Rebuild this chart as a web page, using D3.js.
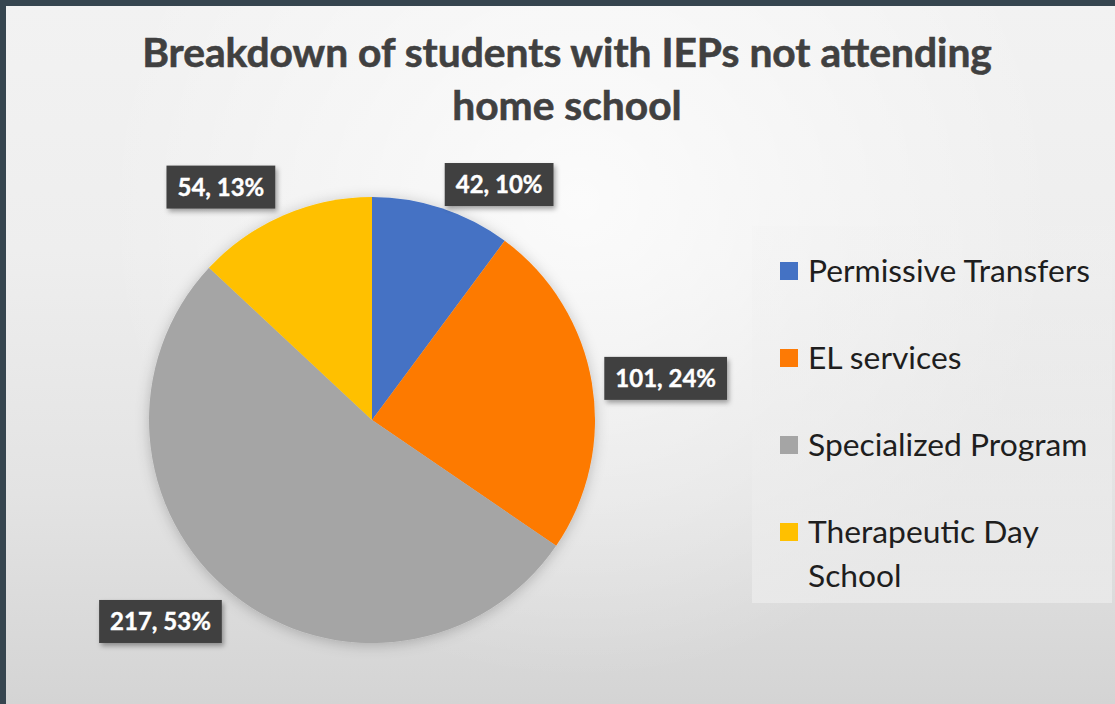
<!DOCTYPE html>
<html>
<head>
<meta charset="utf-8">
<script src="https://cdn.jsdelivr.net/npm/d3@7"></script>
<style>
  html, body { margin: 0; padding: 0; background: #36454f; }
  svg { display: block; }
</style>
</head>
<body>
<svg id="chart" width="1115" height="704"></svg>
<script>
// Students with IEPs not attending their home school, by reason
const categories = ["Permissive Transfers", "EL services", "Specialized Program", "Therapeutic Day School"];
const counts = [42, 101, 217, 54];
const percentLabels = ["10%", "24%", "53%", "13%"];
const colors = ["#4472c4", "#fd7a05", "#a5a5a5", "#ffc000"];

// Data label placement: radius factor and angular nudge (degrees) from slice middle
const labelRadius = [1.20, 1.33, 1.31, 1.245];
const labelNudge = [10.1, 1.5, 7.7, -9.5];

const W = 1115, H = 704;
const svg = d3.select("#chart");
const defs = svg.append("defs");

// Background gradients
const lin = defs.append("linearGradient").attr("id", "bgLin")
  .attr("x1", 0).attr("y1", 0).attr("x2", 0).attr("y2", 1);
[[0, "#f2f2f2"], [0.35, "#eeeeee"], [0.7, "#e3e3e3"], [1, "#d4d4d4"]]
  .forEach(([o, c]) => lin.append("stop").attr("offset", o).attr("stop-color", c));

const rad = defs.append("radialGradient").attr("id", "bgRad")
  .attr("gradientUnits", "userSpaceOnUse")
  .attr("cx", 580).attr("cy", 200).attr("r", 480);
rad.append("stop").attr("offset", 0).attr("stop-color", "#ffffff").attr("stop-opacity", 0.75);
rad.append("stop").attr("offset", 1).attr("stop-color", "#ffffff").attr("stop-opacity", 0);

const legGrad = defs.append("linearGradient").attr("id", "legGrad")
  .attr("x1", 0).attr("y1", 0).attr("x2", 0).attr("y2", 1);
legGrad.append("stop").attr("offset", 0).attr("stop-color", "#f0f0f0").attr("stop-opacity", 0.2);
legGrad.append("stop").attr("offset", 1).attr("stop-color", "#ececec").attr("stop-opacity", 0.75);

// Soft shadows
const pieShadow = defs.append("filter").attr("id", "pieShadow")
  .attr("x", "-20%").attr("y", "-20%").attr("width", "140%").attr("height", "140%");
pieShadow.append("feDropShadow").attr("dx", 0).attr("dy", 2)
  .attr("stdDeviation", 7).attr("flood-color", "#000").attr("flood-opacity", 0.22);

const boxShadow = defs.append("filter").attr("id", "boxShadow")
  .attr("x", "-20%").attr("y", "-30%").attr("width", "140%").attr("height", "160%");
boxShadow.append("feDropShadow").attr("dx", 2).attr("dy", 3)
  .attr("stdDeviation", 2.5).attr("flood-color", "#000").attr("flood-opacity", 0.35);

// Frame and panel
svg.append("rect").attr("width", W).attr("height", H).attr("fill", "#36454f");
svg.append("rect").attr("x", 6).attr("y", 6).attr("width", W - 6).attr("height", H - 6).attr("fill", "url(#bgLin)");
svg.append("rect").attr("x", 6).attr("y", 6).attr("width", W - 6).attr("height", H - 6).attr("fill", "url(#bgRad)");

// Fit a text element to a target width by adjusting font size
function fitWidth(sel, target) {
  const node = sel.node();
  const fs = parseFloat(sel.attr("font-size"));
  const len = node.getComputedTextLength();
  sel.attr("font-size", (fs * target / len).toFixed(2));
}

// Title
const titleFont = "Lato, 'Noto Sans', sans-serif";
const t1 = svg.append("text").attr("x", 567).attr("y", 67)
  .attr("text-anchor", "middle").attr("font-family", titleFont)
  .attr("font-weight", 700).attr("font-size", 34).attr("fill", "#404040")
  .attr("stroke", "#404040").attr("stroke-width", 0.6)
  .text("Breakdown of students with IEPs not attending");
fitWidth(t1, 850);
svg.append("text").attr("x", 567).attr("y", 120)
  .attr("text-anchor", "middle").attr("font-family", titleFont)
  .attr("font-weight", 700).attr("font-size", t1.attr("font-size")).attr("fill", "#404040")
  .attr("stroke", "#404040").attr("stroke-width", 0.6)
  .text("home school");

// Pie
const cx = 372, cy = 420, R = 223;
const pie = d3.pie().sort(null).value(d => d)(counts);
const arc = d3.arc().innerRadius(0).outerRadius(R);
const g = svg.append("g").attr("transform", `translate(${cx},${cy})`);
const slices = g.append("g").attr("filter", "url(#pieShadow)");
slices.selectAll("path").data(pie).join("path")
  .attr("d", arc)
  .attr("fill", (d, i) => colors[i]);

// Data labels
const lblG = g.append("g");
pie.forEach((d, i) => {
  const mid = (d.startAngle + d.endAngle) / 2 + labelNudge[i] * Math.PI / 180;
  const r = R * labelRadius[i];
  const x = Math.sin(mid) * r, y = -Math.cos(mid) * r;
  const grp = lblG.append("g").attr("transform", `translate(${x},${y})`);
  const rect = grp.append("rect").attr("fill", "#404040").attr("filter", "url(#boxShadow)");
  const txt = grp.append("text").attr("text-anchor", "middle").attr("dy", "0.36em")
    .attr("font-family", titleFont).attr("font-weight", 700).attr("font-size", 24)
    .attr("fill", "#ffffff").attr("stroke", "#ffffff").attr("stroke-width", 0.4)
    .text(`${counts[i]}, ${percentLabels[i]}`);
  const w = txt.node().getComputedTextLength() + 22, h = 43;
  rect.attr("x", -w / 2).attr("y", -h / 2).attr("width", w).attr("height", h);
});

// Legend
const legX = 752, legY = 226, legW = 360, legH = 377;
svg.append("rect").attr("x", legX).attr("y", legY).attr("width", legW).attr("height", legH)
  .attr("fill", "url(#legGrad)");

const legendFont = "Lato, 'Noto Sans', sans-serif";
const rowY = d3.scalePoint().domain(categories).range([271, 532]);
const legend = svg.append("g");
let legendFs = null;
categories.forEach((c, i) => {
  const y = rowY(c);
  legend.append("rect").attr("x", 780).attr("y", y - 9).attr("width", 18).attr("height", 18)
    .attr("fill", colors[i]);
  const lines = c === "Therapeutic Day School" ? ["Therapeutic Day", "School"] : [c];
  lines.forEach((ln, j) => {
    const t = legend.append("text").attr("x", 808).attr("y", y + 11 + j * 44)
      .attr("font-family", legendFont).attr("font-size", legendFs || 28)
      .attr("fill", "#1e1e1e").text(ln);
    if (i === 0 && j === 0) { fitWidth(t, 282); legendFs = +t.attr("font-size"); }
  });
});
</script>
</body>
</html>
